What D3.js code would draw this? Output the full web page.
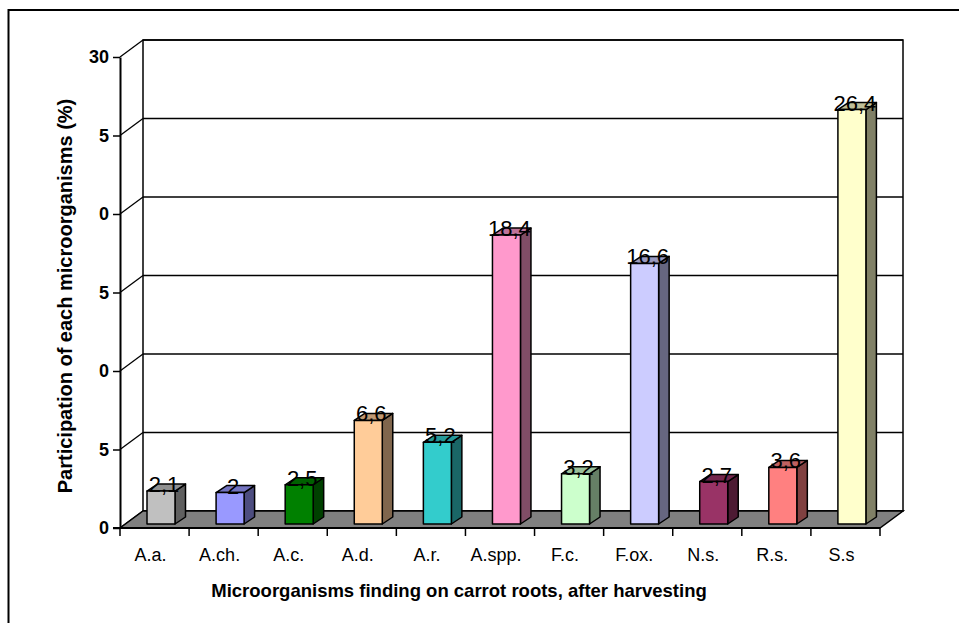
<!DOCTYPE html>
<html lang="en">
<head>
<meta charset="UTF-8">
<title>Microorganisms on carrot roots</title>
<script src="https://d3js.org/d3.v7.min.js"></script>
<style>
  body { margin: 0; background: #fff; }
  svg { display: block; font-family: Arial, "Liberation Sans", sans-serif; }
  .ytick { font-size: 18px; font-weight: bold; }
  .xtick { font-size: 18px; }
  .title { font-size: 18.5px; font-weight: bold; }
  .val { font-size: 22px; }
</style>
</head>
<body>
<div id="chart"></div>
<script>
const categories = ["A.a.", "A.ch.", "A.c.", "A.d.", "A.r.", "A.spp.", "F.c.", "F.ox.", "N.s.", "R.s.", "S.s"];
const values = [2.1, 2, 2.5, 6.6, 5.2, 18.4, 3.2, 16.6, 2.7, 3.6, 26.4];
const valueLabels = ["2,1", "2", "2,5", "6,6", "5,2", "18,4", "3,2", "16,6", "2,7", "3,6", "26,4"];
const barColors = ["#C0C0C0", "#9999FF", "#008000", "#FFCC99", "#33CCCC", "#FF99CC", "#CCFFCC", "#CCCCFF", "#993366", "#FF8080", "#FFFFCC"];
const yTicks = [0, 5, 10, 15, 20, 25, 30];
const yTickLabels = ["0", "5", "0", "5", "0", "5", "30"]; // as printed (clipped) in the original

const W = 959, H = 623;
const depthX = 23, depthY = -17;   // floor / wall depth
const barDX = 10.5, barDY = -7;    // bar depth
const barShift = 5.5, barShiftY = -4; // bars sit a little behind the front edge

const svg = d3.select("#chart").append("svg")
  .attr("width", W).attr("height", H);

// outer frame (only left + top visible)
svg.append("rect")
  .attr("x", 8.5).attr("y", 10).attr("width", 1200).attr("height", 900)
  .attr("fill", "none").attr("stroke", "#000").attr("stroke-width", 2);

const x = d3.scaleBand().domain(categories).range([120, 880]);
const y = d3.scaleLinear().domain([0, 30]).range([528, 57]);
const x0 = x.range()[0], x1 = x.range()[1];

// back wall
svg.append("rect")
  .attr("x", x0 + depthX).attr("y", y(30) + depthY)
  .attr("width", x1 - x0).attr("height", y(0) - y(30))
  .attr("fill", "#fff").attr("stroke", "#000").attr("stroke-width", 1.5);

// gridlines on back wall and side wall
const grid = svg.append("g").attr("stroke", "#000").attr("stroke-width", 1.3);
grid.selectAll(".gh").data(yTicks).join("line")
  .attr("x1", x0 + depthX).attr("x2", x1 + depthX)
  .attr("y1", d => y(d) + depthY).attr("y2", d => y(d) + depthY);
grid.selectAll(".gd").data(yTicks).join("line")
  .attr("x1", x0).attr("x2", x0 + depthX)
  .attr("y1", d => y(d)).attr("y2", d => y(d) + depthY);

// floor
svg.append("polygon")
  .attr("points", [
    [x0, y(0)], [x1, y(0)], [x1 + depthX, y(0) + depthY], [x0 + depthX, y(0) + depthY]
  ].map(p => p.join(",")).join(" "))
  .attr("fill", "#808080").attr("stroke", "#000").attr("stroke-width", 1.5);

// y axis
const yAxis = svg.append("g")
  .attr("transform", `translate(${x0},0)`)
  .call(d3.axisLeft(y).tickValues(yTicks).tickSize(7).tickSizeOuter(0)
    .tickFormat((d, i) => yTickLabels[i]));
yAxis.select(".domain").attr("stroke-width", 2);
yAxis.selectAll(".tick line").attr("stroke-width", 1.5);
yAxis.selectAll("text").attr("class", "ytick").attr("fill", "#000").attr("x", -11)
  .style("font-family", "Arial, 'Liberation Sans', sans-serif");

// bars
const bars = svg.append("g");
categories.forEach((c, i) => {
  const base = d3.rgb(barColors[i]);
  const side = d3.rgb(base.r * 0.5, base.g * 0.5, base.b * 0.5);
  const top = d3.rgb(base.r * 0.75, base.g * 0.75, base.b * 0.75);
  const fl = x(c) + barShift + 21.5, w = 28;
  const yb = y(0) + barShiftY, yt = y(values[i]) + barShiftY;
  const g = bars.append("g").attr("stroke", "#000").attr("stroke-width", 1.5)
    .attr("stroke-linejoin", "round");
  g.append("polygon")
    .attr("points", [[fl + w, yt], [fl + w + barDX, yt + barDY], [fl + w + barDX, yb + barDY], [fl + w, yb]]
      .map(p => p.join(",")).join(" "))
    .attr("fill", side);
  g.append("polygon")
    .attr("points", [[fl, yt], [fl + barDX, yt + barDY], [fl + w + barDX, yt + barDY], [fl + w, yt]]
      .map(p => p.join(",")).join(" "))
    .attr("fill", top);
  g.append("rect")
    .attr("x", fl).attr("y", yt).attr("width", w).attr("height", yb - yt)
    .attr("fill", base);
  svg.append("text").attr("class", "val")
    .attr("x", fl + w / 2 + 3).attr("y", yt + 1)
    .attr("text-anchor", "middle")
    .text(valueLabels[i]);
});

// x axis
const xa = svg.append("g");
xa.append("line")
  .attr("x1", x0 - 7).attr("x2", x1).attr("y1", y(0)).attr("y2", y(0))
  .attr("stroke", "#000").attr("stroke-width", 2);
xa.selectAll(".xt").data(d3.range(categories.length + 1)).join("line")
  .attr("x1", i => x0 + i * x.bandwidth()).attr("x2", i => x0 + i * x.bandwidth())
  .attr("y1", y(0)).attr("y2", y(0) + 8)
  .attr("stroke", "#000").attr("stroke-width", 1.5);
xa.selectAll(".xl").data(categories).join("text")
  .attr("class", "xtick")
  .attr("x", d => x(d) + x.bandwidth() / 2 - 4)
  .attr("y", 561)
  .attr("text-anchor", "middle")
  .text(d => d);

// titles
svg.append("text").attr("class", "title")
  .attr("x", 459).attr("y", 597).attr("text-anchor", "middle")
  .text("Microorganisms finding on carrot roots, after harvesting");
svg.append("text").attr("class", "title")
  .attr("transform", "translate(72,296) rotate(-90)")
  .attr("text-anchor", "middle")
  .style("font-size", "20px")
  .text("Participation of each microorganisms (%)");
</script>
</body>
</html>
